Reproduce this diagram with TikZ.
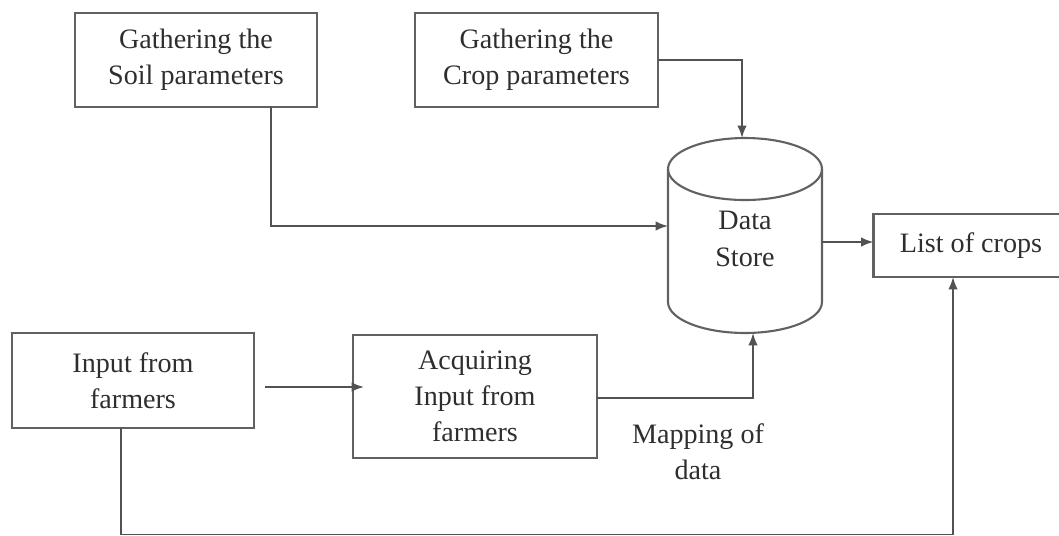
\documentclass[tikz,border=0pt]{standalone}
\usepackage{fontspec}
\setmainfont{Liberation Serif}
\usepackage{xcolor}
\usetikzlibrary{arrows.meta}

\begin{document}
\begin{tikzpicture}[
  x=0.02cm, y=-0.02cm,
  >=Latex,
  procbox/.style={draw=black!62,line width=1.2pt,align=center,inner sep=0pt,
                  outer sep=0pt,text=black!82,font=\fontsize{16}{20.5}\selectfont},
  storebox/.style={inner sep=0pt,outer sep=0pt,align=center,text=black!82,
                   minimum width=3.08cm,minimum height=3.9cm,
                   font=\fontsize{16}{21.5}\selectfont},
  flow/.style={draw=black!68,line width=1pt},
  tip/.style={-{Latex[length=2.5mm,width=1.9mm]}}
]
 \useasboundingbox (0,0) rectangle (1059,535);
 \node[procbox,minimum width=4.84cm,minimum height=1.88cm] (soil) at (196,60)
       {Gathering the\\Soil parameters};
 \node[procbox,minimum width=4.86cm,minimum height=1.88cm] (crop) at (536.5,60)
       {Gathering the\\Crop parameters};
 \node[storebox] (store) at (745,235.5) {};
 \node[align=center,text=black!82,font=\fontsize{16}{21.5}\selectfont] (storetxt)
       at (745,239) {Data\\Store};
 \node[procbox,minimum width=3.9cm,minimum height=1.26cm] (list) at (971,245.5)
       {List of crops};
 \node[procbox,minimum width=4.84cm,minimum height=1.9cm] (farmer) at (133,380.5)
       {Input from\\farmers};
 \node[procbox,minimum width=4.88cm,minimum height=2.46cm] (acquire) at (475,396.5)
       {Acquiring\\Input from\\farmers};
 \node[align=center,text=black!82,font=\fontsize{16}{20.5}\selectfont] (maplbl)
       at (698,452) {Mapping of\\data};
 % the data store drum
 \draw[flow,line width=1.2pt,draw=black!62]
   ([yshift=-0.62cm]store.north west) -- ([yshift=0.62cm]store.south west)
   arc[start angle=180,end angle=360,x radius=1.54cm,y radius=0.62cm]
   -- ([yshift=-0.62cm]store.north east);
 \draw[flow,line width=1.2pt,draw=black!62]
   ([yshift=-0.62cm]store.north) ellipse[x radius=1.54cm,y radius=0.62cm];
 % connectors
 \coordinate (bottom) at (0,534.5);
 \coordinate (fdown) at ([xshift=-0.24cm]farmer.south);
 \coordinate (lup) at ([xshift=-0.36cm]list.south);
 \draw[flow,tip] ([xshift=1.5cm]soil.south) |- ([yshift=0.19cm]store.west);
 \draw[flow,tip] (crop.east) -| ([xshift=-0.06cm]store.north);
 \draw[flow,tip] ([yshift=-0.13cm]store.east) -- ([yshift=-0.13cm]store.east -| list.west);
 \draw[flow,tip] ([xshift=0.22cm,yshift=-0.13cm]farmer.east)
   -- ([xshift=0.22cm,yshift=-0.13cm]farmer.east -| acquire.west);
 \draw[flow,tip] ([yshift=-0.03cm]acquire.east) -| ([xshift=0.16cm]store.south);
 \draw[flow,tip] (fdown) -- (fdown |- bottom) -| (lup);
\end{tikzpicture}
\end{document}
